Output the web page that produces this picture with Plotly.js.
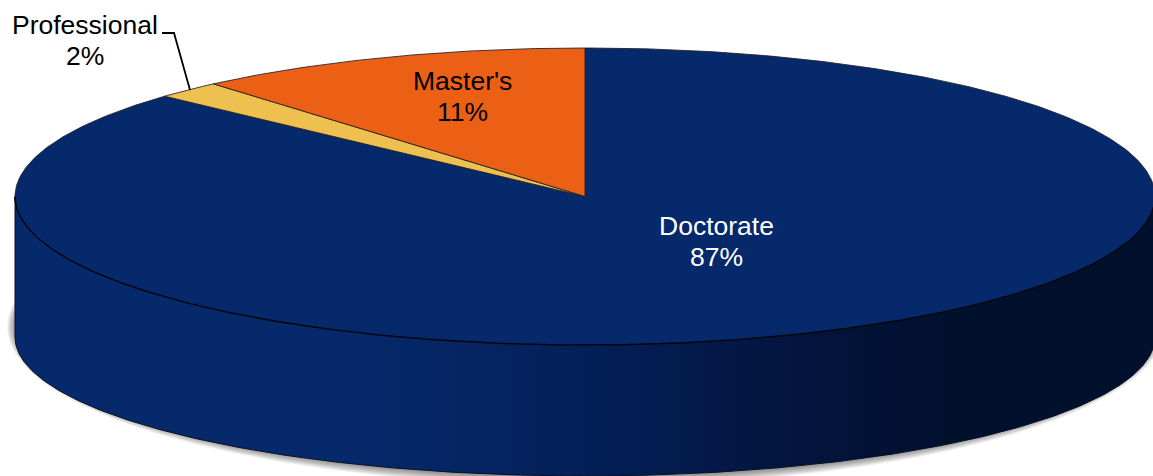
<!DOCTYPE html>
<html>
<head>
<meta charset="utf-8">
<script src="https://cdn.plot.ly/plotly-3.0.1.min.js"></script>
<style>html,body{margin:0;padding:0;background:#fff;overflow:hidden}#chart{width:1153px;height:476px}</style>
</head>
<body>
<div id="chart"></div>
<script>
// Data (clockwise from 12 o'clock), read from the slice edges; labels show the rounded value
const categories = ["Doctorate", "Professional", "Master's"];
const shares = [86.8, 1.9, 11.3];
const sliceColors = ["#06296B", "#EDC04F", "#EB6015"];
const labelColors = ["#ffffff", "#000000", "#000000"];

// Disc geometry in the chart's axis units
const CX = 585, CY = 196.5, RX = 570, RY = 148.5;
const BOTTOM_CY = 337, BOTTOM_RY = 139;

function ell(cx, cy, rx, ry, a) { // a in degrees clockwise from top
  const r = a * Math.PI / 180;
  return [cx + rx * Math.sin(r), cy - ry * Math.cos(r)];
}
function arc(cx, cy, rx, ry, a0, a1) {
  const xs = [], ys = [];
  const n = Math.max(2, Math.ceil(Math.abs(a1 - a0) * 2));
  for (let i = 0; i <= n; i++) {
    const p = ell(cx, cy, rx, ry, a0 + (a1 - a0) * i / n);
    xs.push(p[0]); ys.push(p[1]);
  }
  return [xs, ys];
}

const traces = [];

// soft shadow below the disc
for (let k = 9; k >= 1; k--) {
  const s = arc(CX + 1, 327, RX + k, 150 + k, 0, 360);
  traces.push({x: s[0], y: s[1], mode: "lines", fill: "toself", line: {width: 0},
    fillcolor: "rgba(0,0,0,0.055)", hoverinfo: "skip"});
}

// side wall
const wTop = arc(CX, CY, RX, RY, 90, 270);
const wBot = arc(CX, BOTTOM_CY, RX, BOTTOM_RY, 270, 90);
traces.push({
  x: wTop[0].concat(wBot[0], [wTop[0][0]]),
  y: wTop[1].concat(wBot[1], [wTop[1][0]]),
  mode: "lines", fill: "toself", line: {color: "#0a1020", width: 1},
  fillgradient: {type: "horizontal", colorscale: [
    [0, "#06296B"], [0.3, "#06296B"], [0.51, "#041F57"], [0.69, "#03143E"], [0.82, "#01102C"], [1, "#01102C"]
  ]},
  hoverinfo: "skip"
});

// top slices built from the shares
let start = 0;
const total = shares.reduce((a, b) => a + b, 0);
shares.forEach((v, i) => {
  const sweep = v / total * 360;
  const a = arc(CX, CY, RX, RY, start, start + sweep);
  traces.push({
    name: categories[i],
    x: [CX].concat(a[0], [CX]),
    y: [CY].concat(a[1], [CY]),
    mode: "lines", fill: "toself",
    fillcolor: sliceColors[i],
    line: {color: "rgba(30,30,40,0.85)", width: 1},
    hoverinfo: "skip"
  });
  start += sweep;
});

// dark lower rim of the top face
const rim = arc(CX, CY, RX, RY, 90, 270);
traces.push({x: rim[0], y: rim[1], mode: "lines", line: {color: "#02060f", width: 1.4}, hoverinfo: "skip"});

const font = c => ({family: "Liberation Sans, Arial, sans-serif", size: 26.5, color: c});
const labelPos = [[716, 226, 257], [84.5, 25, 56], [462, 81, 112]];
const annotations = [];
categories.forEach((c, i) => {
  annotations.push({x: labelPos[i][0], y: labelPos[i][1], text: c, showarrow: false,
    xref: "x", yref: "y", xanchor: "center", yanchor: "middle", font: font(labelColors[i])});
  annotations.push({x: labelPos[i][0], y: labelPos[i][2], text: Math.round(shares[i]) + "%", showarrow: false,
    xref: "x", yref: "y", xanchor: "center", yanchor: "middle", font: font(labelColors[i])});
});

const layout = {
  width: 1153, height: 476,
  margin: {l: 0, r: 0, t: 0, b: 0, pad: 0},
  paper_bgcolor: "#fff", plot_bgcolor: "#fff",
  showlegend: false, hovermode: false,
  xaxis: {range: [0, 1153], visible: false, fixedrange: true},
  yaxis: {range: [476, 0], visible: false, fixedrange: true},
  annotations: annotations,
  shapes: [{type: "path", path: "M 162 33 L 174 33 L 190 90", xref: "x", yref: "y",
    line: {color: "#000", width: 1.8}}]
};
Plotly.newPlot("chart", traces, layout, {displayModeBar: false, staticPlot: true});
</script>
</body>
</html>
